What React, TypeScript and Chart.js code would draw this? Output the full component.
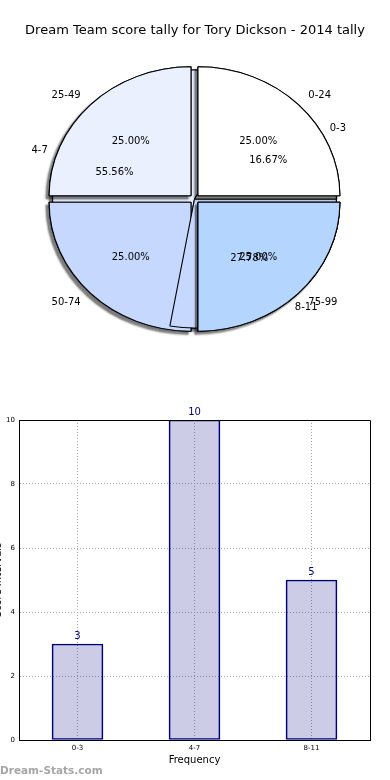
import React, { useEffect, useRef } from 'react';
import { Chart, registerables } from 'chart.js';

Chart.register(...registerables);

// ---------------- data ----------------
const pageTitle = 'Dream Team score tally for Tory Dickson - 2014 tally';
const scoreBands = ['0-24', '25-49', '50-74', '75-99'];
const scoreBandShares = [25, 25, 25, 25];
const tallyBands = ['0-3', '4-7', '8-11'];
const tallyCounts = [3, 10, 5];
const yAxisMin = 0;
const yAxisMax = 10;
const yAxisStep = 2;
const xAxisTitle = 'Frequency';
const yAxisTitle = 'Score Intervals';
const watermark = 'Dream-Stats.com';

// ---------------- styles ----------------
const FONT = '"DejaVu Sans", "Liberation Sans", sans-serif';
const sliceColors = ['#ffffff', '#eaf0fe', '#c6d8fe', '#b4d5fe'];
const PIE_RADIUS = 129;
const STRETCH_X = 1.1;
const EXPLODE = 18;

function applyStretch(chart: any) {
  const ctx = chart.ctx as CanvasRenderingContext2D;
  const a = chart.chartArea;
  const cx = (a.left + a.right) / 2;
  ctx.translate(cx, 0);
  ctx.scale(STRETCH_X, 1);
  ctx.translate(-cx, 0);
}

function drawPieLabels(ctx: CanvasRenderingContext2D, chart: any) {
  const meta = chart.getDatasetMeta(0);
  const ds = chart.data.datasets[0];
  const labels = chart.data.labels as string[];
  const total = (ds.data as number[]).reduce((a, b) => a + b, 0);
  ctx.save();
  ctx.fillStyle = '#000';
  ctx.font = '10px ' + FONT;
  ctx.textBaseline = 'middle';
  meta.data.forEach((arc: any, i: number) => {
    const { x, y, startAngle, endAngle, outerRadius } = arc.getProps(
      ['x', 'y', 'startAngle', 'endAngle', 'outerRadius'],
      true
    );
    const mid = (startAngle + endAngle) / 2;
    const circ = endAngle - startAngle;
    const off = (arc.options.offset || 0) / 4;
    const fix = 1 - Math.sin(Math.min(Math.PI, circ));
    const t = off * (1 + fix);
    const pt = (d: number) => ({
      x: x + STRETCH_X * (outerRadius * d + t) * Math.cos(mid),
      y: y + (outerRadius * d + t) * Math.sin(mid),
    });
    const lp = pt(1.1);
    ctx.textAlign = Math.cos(mid) >= 0 ? 'left' : 'right';
    ctx.fillText(labels[i], lp.x, lp.y);
    const pp = pt(0.6);
    ctx.textAlign = 'center';
    const pct = ((ds.data[i] as number) / total) * 100;
    ctx.fillText(pct.toFixed(2) + '%', pp.x, pp.y);
  });
  ctx.restore();
}

const ellipsePlugin = {
  id: 'ellipseShadow',
  beforeDatasetsDraw(chart: any) {
    const ctx = chart.ctx as CanvasRenderingContext2D;
    ctx.save();
    applyStretch(chart);
    // shadow pass: draw the arcs once with a drop shadow, the normal pass covers them
    ctx.save();
    ctx.shadowColor = 'rgba(0,0,0,0.5)';
    ctx.shadowOffsetX = -3;
    ctx.shadowOffsetY = 3;
    ctx.shadowBlur = 2;
    chart.getDatasetMeta(0).controller.draw();
    ctx.restore();
  },
  afterDatasetsDraw(chart: any) {
    chart.ctx.restore();
  },
};

function pieConfig(labels: string[], values: number[], offset: number, extraPlugins: any[]) {
  const rev = <T,>(arr: T[]) => arr.slice().reverse();
  return {
    type: 'pie' as const,
    data: {
      labels: rev(labels),
      datasets: [
        {
          data: rev(values),
          backgroundColor: rev(sliceColors.slice(0, values.length)),
          borderColor: '#000000',
          borderWidth: 1,
          offset,
          radius: PIE_RADIUS,
          rotation: 90,
        },
      ],
    },
    options: {
      responsive: false,
      animation: false as const,
      events: [],
      rotation: 90,
      radius: PIE_RADIUS,
      layout: { padding: { left: 0, right: 1, top: 0, bottom: 2 } },
      plugins: {
        legend: { display: false },
        tooltip: { enabled: false },
        title: { display: false },
      },
    },
    plugins: [ellipsePlugin, ...extraPlugins],
  };
}

const align = (p: number) => Math.round(p - 0.5) + 0.5;

export default function App() {
  const baseRef = useRef<HTMLCanvasElement>(null);
  const topRef = useRef<HTMLCanvasElement>(null);
  const barRef = useRef<HTMLCanvasElement>(null);

  useEffect(() => {
    const base = new Chart(baseRef.current!, pieConfig(tallyBands, tallyCounts, 0, []) as any);

    // the last tally wedge overlaps the lower-left score slice, under the lower-right one
    const overlapPlugin = {
      id: 'overlap',
      afterDatasetsDraw(chart: any) {
        const ctx = chart.ctx as CanvasRenderingContext2D;
        const a = chart.chartArea;
        const cx = (a.left + a.right) / 2;
        const cy = (a.top + a.bottom) / 2;
        const baseMeta = base.getDatasetMeta(0);
        const topMeta = chart.getDatasetMeta(0);
        const baseIdx = (base.data.labels as string[]).indexOf(tallyBands[tallyBands.length - 1]);
        const topIdx = (chart.data.labels as string[]).indexOf(scoreBands[scoreBands.length - 1]);
        ctx.save();
        applyStretch(chart);
        ctx.save();
        ctx.beginPath();
        ctx.rect(0, cy + 1, cx, chart.height);
        ctx.clip();
        (baseMeta.data[baseIdx] as any).draw(ctx, a);
        ctx.restore();
        (topMeta.data[topIdx] as any).draw(ctx, a);
        ctx.restore();
      },
    };
    const labelPlugin = {
      id: 'pieLabels',
      afterDraw(chart: any) {
        drawPieLabels(chart.ctx, base);
        drawPieLabels(chart.ctx, chart);
      },
    };
    const top = new Chart(
      topRef.current!,
      pieConfig(scoreBands, scoreBandShares, EXPLODE, [overlapPlugin, labelPlugin]) as any
    );

    const framePlugin = {
      id: 'frame',
      afterDraw(chart: any) {
        const { ctx, chartArea: a } = chart;
        ctx.save();
        ctx.strokeStyle = '#000';
        ctx.lineWidth = 1;
        ctx.beginPath();
        ctx.moveTo(align(a.left), align(a.top));
        ctx.lineTo(align(a.right), align(a.top));
        ctx.lineTo(align(a.right), align(a.bottom));
        ctx.stroke();
        ctx.restore();
      },
    };
    const valuePlugin = {
      id: 'values',
      afterDatasetsDraw(chart: any) {
        const { ctx } = chart;
        const meta = chart.getDatasetMeta(0);
        ctx.save();
        ctx.fillStyle = '#000080';
        ctx.font = '10px ' + FONT;
        ctx.textAlign = 'center';
        ctx.textBaseline = 'bottom';
        meta.data.forEach((bar: any, i: number) => {
          ctx.fillText(String(chart.data.datasets[0].data[i]), bar.x, bar.y - 3);
        });
        ctx.restore();
      },
    };
    const gridColor = '#a8a8a8';
    const bar = new Chart(barRef.current!, {
      type: 'bar',
      data: {
        labels: tallyBands,
        datasets: [
          {
            data: tallyCounts,
            backgroundColor: 'rgba(0,0,128,0.2)',
            borderColor: '#000080',
            borderWidth: 1,
            borderSkipped: false,
            barThickness: 51,
          },
        ],
      },
      options: {
        responsive: false,
        animation: false,
        events: [],
        layout: { padding: { left: 0, right: 20, top: 20, bottom: 10 } },
        plugins: { legend: { display: false }, tooltip: { enabled: false } },
        scales: {
          x: {
            offset: true,
            z: 1,
            grid: { offset: false, color: gridColor, drawTicks: false, lineWidth: 1 },
            border: { color: '#000', width: 1, dash: [1, 2] },
            ticks: { font: { family: FONT, size: 7 }, color: '#000', padding: 4 },
            title: {
              display: true,
              text: xAxisTitle,
              font: { family: FONT, size: 10 },
              color: '#000',
              padding: { top: 0, bottom: 4 },
            },
            afterFit: (s: any) => {
              s.height = 30;
            },
          },
          y: {
            min: yAxisMin,
            max: yAxisMax,
            z: 1,
            grid: { color: gridColor, drawTicks: false, lineWidth: 1 },
            border: { color: '#000', width: 1, dash: [1, 2] },
            ticks: { stepSize: yAxisStep, font: { family: FONT, size: 7 }, color: '#000', padding: 4 },
            title: {
              display: true,
              text: yAxisTitle,
              font: { family: FONT, size: 10 },
              color: '#000',
              padding: { top: 0, bottom: 0 },
            },
            afterFit: (s: any) => {
              s.width = 27;
            },
          },
        },
      },
      plugins: [framePlugin, valuePlugin],
    } as any);

    return () => {
      bar.destroy();
      top.destroy();
      base.destroy();
    };
  }, []);

  return (
    <div
      style={{
        position: 'absolute',
        left: 0,
        top: 0,
        width: 390,
        height: 780,
        overflow: 'hidden',
        background: '#fff',
      }}
    >
      <canvas
        ref={baseRef}
        width={390}
        height={400}
        style={{ position: 'absolute', left: 0, top: 0, width: 390, height: 400 }}
      />
      <canvas
        ref={topRef}
        width={390}
        height={400}
        style={{ position: 'absolute', left: 0, top: 0, width: 390, height: 400 }}
      />
      <div
        style={{
          position: 'absolute',
          left: 0,
          top: 21,
          width: 390,
          textAlign: 'center',
          fontFamily: FONT,
          fontSize: '13px',
          lineHeight: '18px',
          color: '#000',
          whiteSpace: 'nowrap',
        }}
      >
        {pageTitle}
      </div>
      <canvas
        ref={barRef}
        width={398}
        height={380}
        style={{ position: 'absolute', left: -8, top: 400, width: 398, height: 380 }}
      />
      <div
        style={{
          position: 'absolute',
          left: 0,
          top: 762,
          fontFamily: FONT,
          fontWeight: 'bold',
          fontSize: '10.5px',
          lineHeight: '16px',
          color: '#a6a6a6',
          whiteSpace: 'nowrap',
        }}
      >
        {watermark}
      </div>
    </div>
  );
}
